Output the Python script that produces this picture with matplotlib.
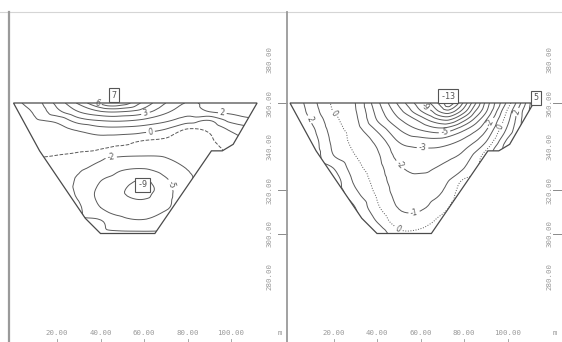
import numpy as np
import matplotlib
matplotlib.use("Agg")
import matplotlib.pyplot as plt
import matplotlib.tri as mtri
from matplotlib.patches import Polygon
from matplotlib.lines import Line2D

# cross-section outline: distance (m), elevation (m)
bank_x = [0, 112, 101, 96, 91, 65, 40, 33, 12]
bank_z = [360, 360, 341, 338, 338, 300, 300, 307, 338]

# measuring grid
grid_x = [0, 10, 20, 30, 40, 50, 60, 70, 80, 90, 100, 110, 120]
grid_z = [360, 356, 352, 348, 342, 336, 330, 324, 318, 312, 306, 300]

# section A readings, one row per elevation in grid_z
vel_a = [
    [-0.2, 0.5, 2.3, 4.2, 6.3, 6.6, 4.7, 3.0, 1.95, 2.2, 2.6, 2.7, 2.7],
    [-0.3, 0.15, 1.7, 3.0, 3.9, 4.0, 3.4, 2.2, 1.4, 2.0, 2.2, 2.5, 2.6],
    [-0.45, -0.12, 0.24, 1.54, 2.04, 2.13, 1.79, 1.2, 0.5, 0.0, 1.3, 1.8, 2.0],
    [-0.6, -0.33, -0.23, 0.17, 0.65, 0.68, 0.48, 0.0, -1.03, -0.8, 0.2, 0.8, 1.2],
    [-0.8, -0.6, -0.61, -0.54, -0.55, -0.76, -1.16, -1.31, -1.3, -1.15, -0.5, 0.0, 0.4],
    [-1.0, -0.95, -1.0, -1.12, -1.44, -1.77, -1.87, -1.78, -1.63, -1.5, -0.8, -0.4, 0.0],
    [-1.2, -1.2, -1.4, -1.65, -2.83, -4.6, -4.9, -3.41, -1.93, -1.7, -1.2, -0.8, -0.4],
    [-1.4, -1.4, -1.5, -2.3, -5.0, -6.8, -8.4, -5.6, -2.4, -1.8, -1.4, -0.8, -0.6],
    [-1.5, -1.5, -1.55, -2.3, -6.0, -7.8, -8.5, -6.2, -2.5, -1.8, -1.5, -0.8, -0.6],
    [-1.5, -1.5, -1.5, -1.7, -5.0, -6.15, -6.9, -5.6, -2.1, -1.7, -1.5, -0.8, -0.6],
    [-1.5, -1.5, -1.5, -1.5, -1.9, -4.4, -4.8, -2.75, -1.7, -1.6, -1.5, -0.8, -0.6],
    [-1.5, -1.5, -1.5, -1.4, -1.3, -1.4, -1.4, -1.4, -1.5, -1.6, -1.5, -0.8, -0.6],
]
peak_a = 7
low_a = -9
peak_a_at = (45, 360)
low_a_at = (59.5, 321.5)
levels_a = [-8, -5, -2, -1, 0, 1, 2, 3, 4, 5, 6]

# section B readings
vel_b = [
    [3.0, 1.4, -0.2, -1.0, -3.7, -6.25, -8.75, -11.67, -9.75, -4.75, -0.67, 3.75, 5.2],
    [3.0, 1.6, -0.04, -0.9, -3.35, -5.55, -7.83, -10.25, -8.28, -4.13, 0.2, 4.0, 5.0],
    [3.0, 1.9, 0.3, -0.75, -3.0, -4.8, -6.25, -7.88, -6.15, -3.03, 0.7, 4.0, 5.0],
    [3.0, 2.2, 0.5, -0.55, -2.2, -4.0, -5.13, -5.75, -4.25, -2.19, 1.2, 4.0, 5.0],
    [2.9, 2.5, 0.75, -0.3, -1.23, -3.0, -3.43, -3.43, -2.62, -1.0, 2.3, 4.0, 5.0],
    [2.8, 2.6, 1.0, 0.0, -0.83, -2.33, -2.64, -2.44, -1.71, 0.4, 2.5, 4.0, 5.0],
    [2.7, 2.6, 2.0, 0.4, -0.6, -1.86, -2.16, -1.82, -1.0, 0.6, 2.5, 4.0, 5.0],
    [2.6, 2.6, 2.5, 0.8, -0.37, -1.59, -1.78, -1.37, 0.2, 0.8, 2.5, 4.0, 5.0],
    [2.6, 2.6, 2.6, 1.3, -0.13, -1.32, -1.46, -0.91, 0.6, 0.9, 2.5, 4.0, 5.0],
    [2.6, 2.6, 2.6, 2.0, 0.2, -1.05, -1.14, -0.35, 0.8, 0.9, 2.5, 4.0, 5.0],
    [2.6, 2.6, 2.6, 2.3, 0.9, -0.59, -0.53, 0.3, 0.9, 0.9, 2.5, 4.0, 5.0],
    [2.6, 2.6, 2.6, 2.4, 1.8, 0.3, 0.3, 0.8, 1.0, 0.9, 2.5, 4.0, 5.0],
]
peak_b = 5
low_b = -13
peak_b_at = (112.5, 360)
low_b_at = (73, 360)
# additional readings near the surface minimum (x, z, value)
extra_b = [(75, 360, -12.2), (65, 360, -10.2), (73, 356, -10.5), (73, 352, -7.9),
           (85, 360, -7.25), (85, 352, -4.6), (65, 352, -7.2)]
levels_b = list(range(-12, 5))

x_ticks = [20, 40, 60, 80, 100]
z_ticks = [380, 360, 340, 320, 300, 280]
z_marks = [360, 320, 300]

W, H = 562, 342
PXM = 2.175          # pixels per metre
TOP = 12             # top frame line (px)
SURF = 103           # water surface (px from top)
z_lo = 360 - (H - SURF) / PXM
z_hi = 360 + (SURF - TOP) / PXM

line_c = "#5a5a5a"
text_c = "#9a9a9a"
mono = "DejaVu Sans Mono"


def draw_section(ax, vals, extra, levels, styles, label_pos, boxes):
    gx, gz = np.meshgrid(grid_x, grid_z)
    px = np.concatenate([gx.ravel(), [e[0] for e in extra]])
    pz = np.concatenate([gz.ravel(), [e[1] for e in extra]])
    pv = np.concatenate([np.array(vals, float).ravel(), [e[2] for e in extra]])

    tri = mtri.Triangulation(px, pz)
    interp = mtri.CubicTriInterpolator(tri, pv, kind="geom")
    tri_f, v_f = mtri.UniformTriRefiner(tri).refine_field(pv, triinterpolator=interp, subdiv=3)

    outline = Polygon(np.column_stack([bank_x, bank_z]), closed=True,
                      fc="none", ec="#4a4a4a", lw=0.9, zorder=3)
    ax.add_patch(outline)
    cs = ax.tricontour(tri_f, v_f, levels=levels, colors=line_c,
                       linewidths=0.7, linestyles=styles)
    cs.set_clip_path(outline)
    ax.clabel(cs, manual=label_pos, inline=True, inline_spacing=2,
              fontsize=5.5, fmt="%d", colors="#555555")

    for (bx, bz), val in boxes:
        ax.text(bx, bz, f"{val:d}", ha="center", va="center", fontsize=6,
                color="#555555", family=mono, zorder=4,
                bbox=dict(boxstyle="square,pad=0.3", fc="white", ec="#555555", lw=0.8))


def frame(ax, x0_px, ax_left_px, ax_right_px, zlab_x):
    xmin = (ax_left_px - x0_px) / PXM
    xmax = (ax_right_px - x0_px) / PXM
    ax.set_xlim(xmin, xmax)
    ax.set_ylim(z_lo, z_hi)
    ax.set_axis_off()
    for x in x_ticks:
        ax.text(x, 254.3, f"{x:.2f}", ha="center", va="center", fontsize=5.3,
                color=text_c, family=mono)
        ax.plot([x, x], [z_lo, z_lo + 1.5], color="#999999", lw=0.6, clip_on=False)
    ax.text(xmax - 3.5, 254.3, "m", ha="center", va="center", fontsize=5.3,
            color=text_c, family=mono)
    for z in z_ticks:
        ax.text(zlab_x, z, f"{z:.2f}", rotation=90, ha="center", va="center",
                fontsize=5.3, color=text_c, family=mono)
    for z in z_marks:
        ax.plot([xmax - 4.2, xmax], [z, z], color="#8a8a8a", lw=0.7, clip_on=False)


fig = plt.figure(figsize=(W / 100, H / 100), dpi=100)

ax1 = fig.add_axes([9 / W, 0, (287 - 9) / W, (H - TOP) / H])
frame(ax1, 13.5, 9, 287, 117.5)
draw_section(ax1, vel_a, [(*peak_a_at, peak_a), (*low_a_at, low_a)], levels_a,
             ["dashed" if lv == -1 else "solid" for lv in levels_a],
             [(38.5, 359.5), (60.5, 356), (63, 346.5), (96, 355), (45, 334), (74, 323)],
             [((46.4, 363.5), peak_a), ((59.5, 322.5), low_a)])

ax2 = fig.add_axes([287 / W, 0, (W - 287) / W, (H - TOP) / H])
frame(ax2, 290, 287, 562, 119.5)
draw_section(ax2, vel_b, [(*low_b_at, low_b), (*peak_b_at, peak_b)] + extra_b, levels_b,
             ["dotted" if lv == 0 else "solid" for lv in levels_b],
             [(62, 358), (71, 347), (61, 340), (52, 333), (57, 310), (50, 303),
              (8, 352), (19, 354), (92, 351), (97, 349), (104, 356)],
             [((72.6, 363), low_b), ((113, 362.5), peak_b)])

# frame lines
fig.add_artist(Line2D([0, 1], [1 - TOP / H, 1 - TOP / H], color="#d5d5d5", lw=0.8))
fig.add_artist(Line2D([9 / W, 9 / W], [0, 1 - TOP / H], color="#9a9a9a", lw=1.6))
fig.add_artist(Line2D([287 / W, 287 / W], [0, 1 - TOP / H], color="#9a9a9a", lw=1.3))

fig.savefig("out.png", dpi=100)
